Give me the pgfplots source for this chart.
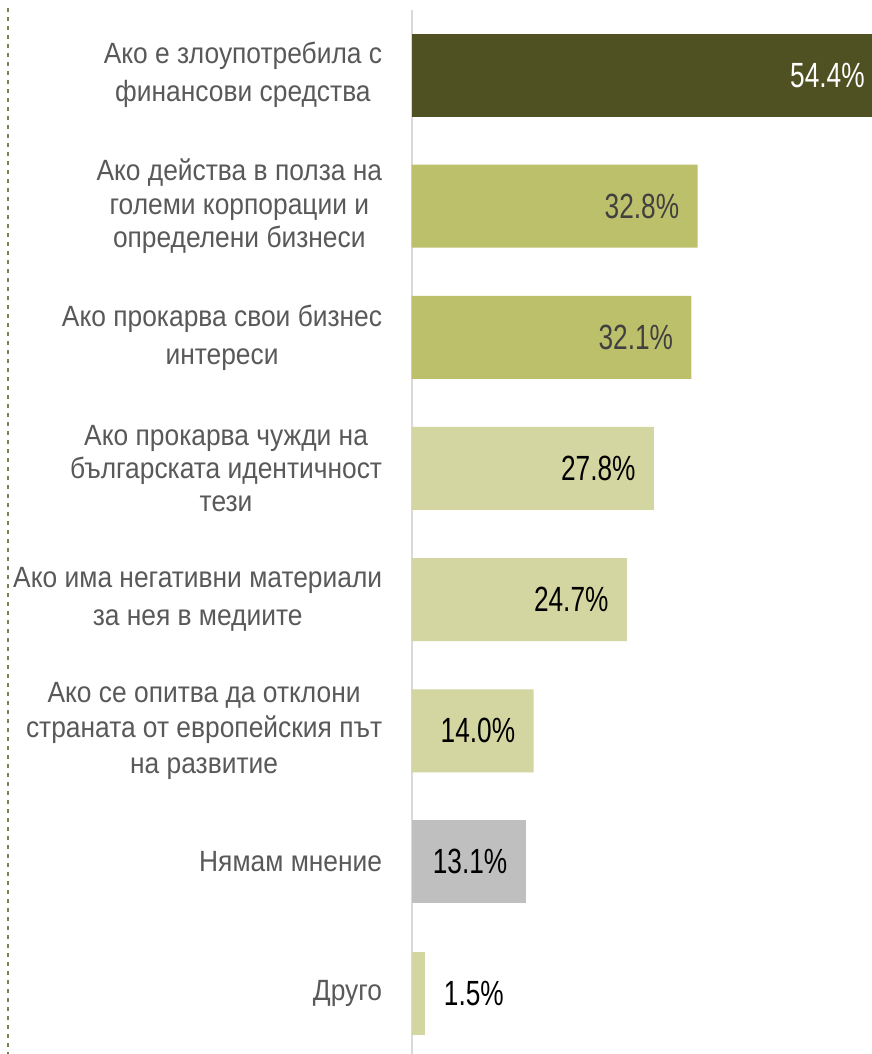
\documentclass[border=0pt]{standalone}
\usepackage{fontspec}
\setmainfont[FakeStretch=0.9]{Liberation Sans}
\newfontfamily\valfont[FakeStretch=0.75]{Liberation Sans}
\usepackage{pgfplots}
\pgfplotsset{compat=1.18}
\definecolor{cdark}{HTML}{4F5123}
\definecolor{cmid}{HTML}{BDC06B}
\definecolor{clight}{HTML}{D3D6A0}
\definecolor{cgray}{HTML}{BFBFBF}
\definecolor{labelgray}{HTML}{595959}
\definecolor{valgray}{HTML}{404040}
\definecolor{axisgray}{HTML}{D9D9D9}
\definecolor{dashc}{HTML}{7F7F4F}
\begin{document}
\begin{tikzpicture}
\useasboundingbox (0,0) rectangle (436pt,-527pt);
\draw[color=dashc, line width=0.7pt, dash pattern=on 2pt off 2.5pt] (4pt,-4pt) -- (4pt,-527pt);
\begin{axis}[
  at={(205.75pt,-4.75pt)}, anchor=north west,
  scale only axis, width=230.25pt, height=522.25pt,
  xmin=0, xmax=52.81, ymin=-0.5, ymax=7.465,
  y dir=reverse,
  xbar,
  every axis plot/.append style={bar shift=0pt, bar width=41.5pt, draw=none},
  axis x line=none,
  axis y line*=left,
  y axis line style={-, draw=axisgray, line width=1pt},
  ytick={0,...,7},
  major tick length=0pt,
  yticklabels={
    {Ако е злоупотребила с\\[2.3pt]финансови средства},
    {Ако действа в полза на\\големи корпорации и\\определени бизнеси},
    {Ако прокарва свои бизнес\\[2.3pt]интереси},
    {Ако прокарва чужди на\\българската идентичност\\тези},
    {Ако има негативни материали\\[2.3pt]за нея в медиите},
    {Ако се опитва да отклони\\[1pt]страната от европейския път\\[1pt]на развитие},
    {Нямам мнение},
    {Друго}},
  yticklabel style={align=center, anchor=east, inner sep=0pt, xshift=-14.5pt,
    font={\fontsize{14.65pt}{16.65pt}\selectfont}, text=labelgray},
  point meta=explicit symbolic,
  nodes near coords,
  every node near coord/.append style={font={\valfont\fontsize{17.5pt}{20pt}\selectfont}, inner sep=0pt},
  clip=true,
]
\addplot[fill=cdark, nodes near coords={}]
  coordinates {(54.4,0)};
\addplot[fill=cmid, every node near coord/.append style={anchor=east, xshift=-9pt, text=valgray}]
  coordinates {(32.8,1) [32.8\%] (32.1,2) [32.1\%]};
\addplot[fill=clight, every node near coord/.append style={anchor=east, xshift=-9pt, text=black}]
  coordinates {(27.8,3) [27.8\%] (24.7,4) [24.7\%] (14.0,5) [14.0\%]};
\addplot[fill=cgray, every node near coord/.append style={anchor=east, xshift=-9pt, text=black}]
  coordinates {(13.1,6) [13.1\%]};
\addplot[fill=clight, every node near coord/.append style={anchor=west, xshift=9.5pt, text=black}]
  coordinates {(1.5,7) [1.5\%]};
\node[anchor=east, inner sep=0pt, xshift=-3.5pt, text=white, font={\valfont\fontsize{17.5pt}{20pt}\selectfont}] at (axis cs:52.81,0) {54.4\%};
\end{axis}
\end{tikzpicture}
\end{document}
